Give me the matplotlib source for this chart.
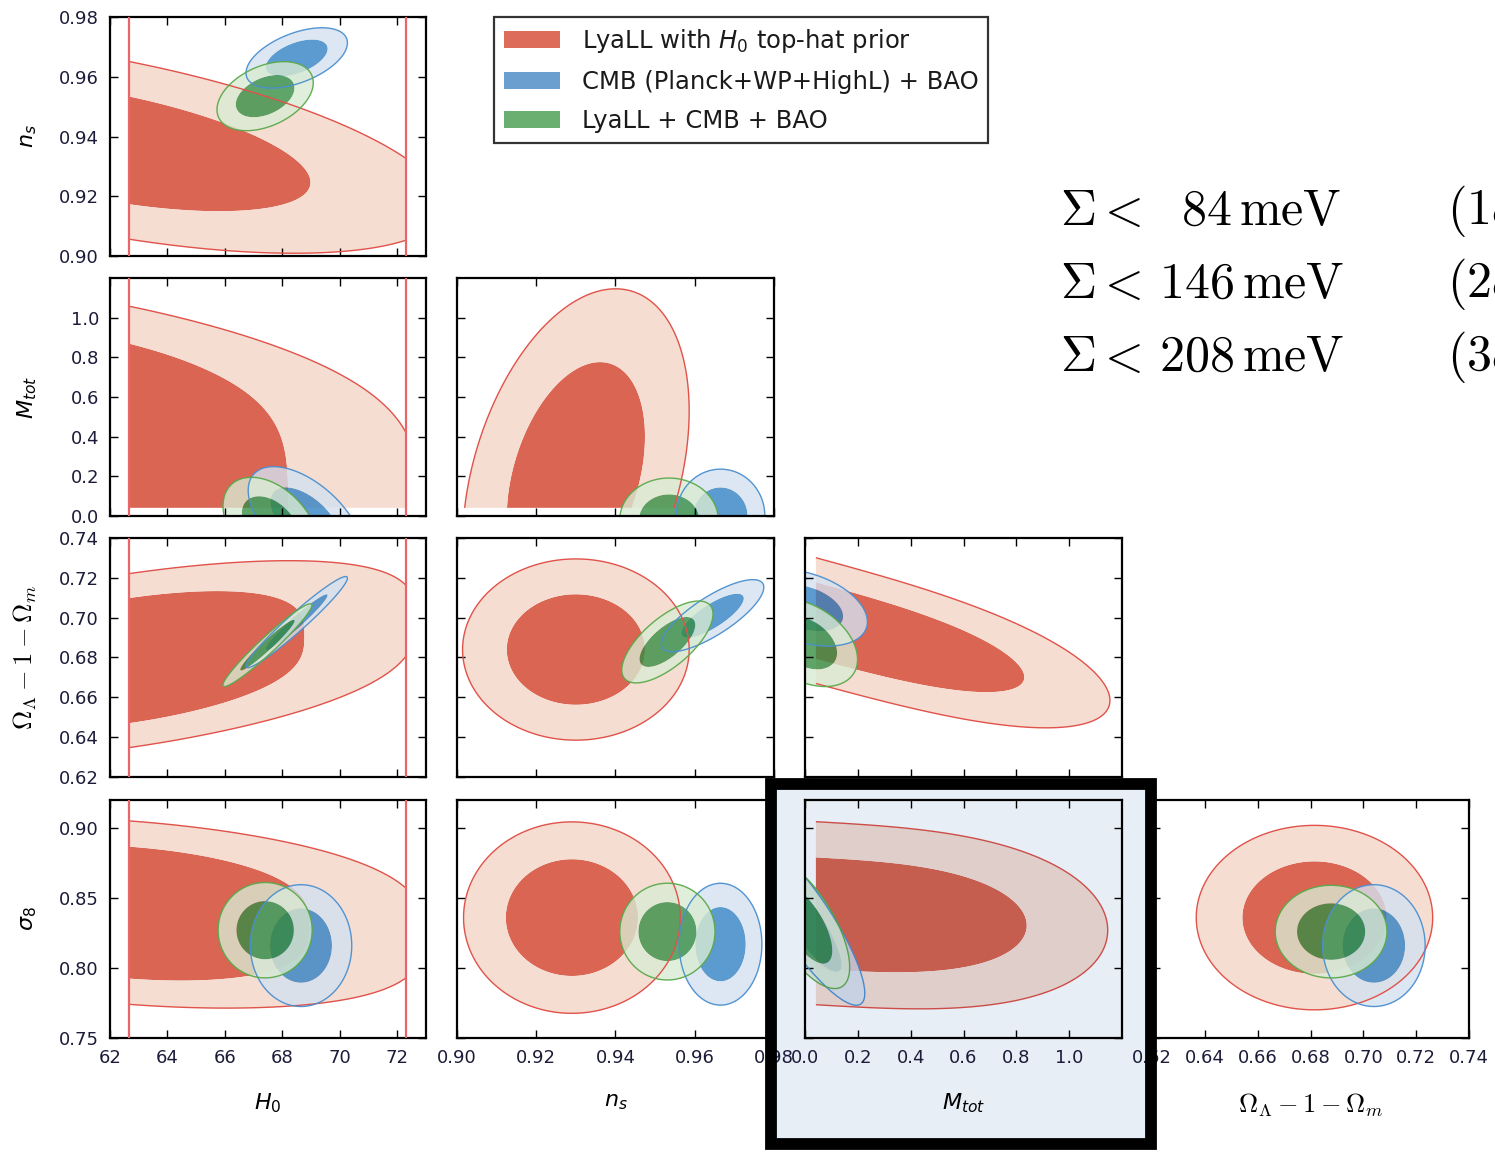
import numpy as np
import matplotlib
matplotlib.use("Agg")
import matplotlib.pyplot as plt
from matplotlib.colors import to_rgb
from matplotlib.patches import Patch, Rectangle

W, H = 1495, 1152
fig = plt.figure(figsize=(W / 100, H / 100), dpi=100)
plt.rcParams["font.family"] = ["DejaVu Sans"]
plt.rcParams["mathtext.fontset"] = "dejavusans"

# ---------------------------------------------------------------- parameters
param_range = {"H0": (62.0, 73.0), "ns": (0.90, 0.98), "Mtot": (0.0, 1.2),
               "OmL": (0.62, 0.74), "s8": (0.75, 0.92)}
param_ticks = {"H0": [62, 64, 66, 68, 70, 72],
               "ns": [0.90, 0.92, 0.94, 0.96, 0.98],
               "Mtot": [0.0, 0.2, 0.4, 0.6, 0.8, 1.0],
               "OmL": [0.62, 0.64, 0.66, 0.68, 0.70, 0.72, 0.74],
               "s8": [0.75, 0.80, 0.85, 0.90]}
tick_fmt = {"H0": "{:.0f}", "ns": "{:.2f}", "Mtot": "{:.1f}", "OmL": "{:.2f}", "s8": "{:.2f}"}
param_label = {"H0": r"$H_0$", "ns": r"$n_s$", "Mtot": r"$M_{tot}$",
               "OmL": r"$\Omega_\Lambda - 1 - \Omega_m$", "s8": r"$\sigma_8$"}

row_params = ["ns", "Mtot", "OmL", "s8"]
col_params = ["H0", "ns", "Mtot", "OmL"]

# H0 top-hat prior used for the Lyman-alpha likelihood
h0_prior = (62.65, 72.3)

# Posterior shapes for each 2D pair: centre (mx, my), width sx along x,
# conditional width sy along y, tilt slope dy/dx and profile exponents (px, py).
lya_shape = {
    ("H0", "ns"):    (61.70, 0.9370, 4.80, 0.0120, -0.0017, 2, 2),
    ("H0", "Mtot"):  (61.00, 0.080, 4.75, 0.711, -0.025, 2, 5),
    ("ns", "Mtot"):  (0.930, 0.198, 0.0115, 0.357, 11.6, 2, 2),
    ("H0", "OmL"):   (62.70, 0.6785, 4.00, 0.0238, 0.00208, 2, 3),
    ("ns", "OmL"):   (0.930, 0.684, 0.0115, 0.0183, 0.0, 2, 2),
    ("Mtot", "OmL"): (0.000, 0.700, 0.629, 0.0127, -0.036, 3, 2),
    ("H0", "s8"):    (62.70, 0.8395, 4.11, 0.0357, -0.00151, 2, 3),
    ("ns", "s8"):    (0.929, 0.836, 0.0110, 0.0275, 0.0, 2, 2),
    ("Mtot", "s8"):  (0.054, 0.839, 0.595, 0.0263, -0.011, 3, 2),
    ("OmL", "s8"):   (0.6815, 0.836, 0.0180, 0.0265, 0.0, 2, 2),
}
cmb_shape = {
    ("H0", "ns"):    (68.50, 0.9663, 0.71, 0.00352, 0.00285, 2, 2),
    ("H0", "Mtot"):  (68.80, -0.020, 0.80, 0.090, -0.075, 2, 2),
    ("ns", "Mtot"):  (0.9665, 0.000, 0.0045, 0.095, 0.0, 2, 2),
    ("H0", "OmL"):   (68.50, 0.6978, 0.71, 0.0024, 0.0125, 2, 2),
    ("ns", "OmL"):   (0.9645, 0.701, 0.0052, 0.0045, 1.1, 2, 2),
    ("Mtot", "OmL"): (0.000, 0.705, 0.095, 0.0072, -0.03, 2, 2),
    ("H0", "s8"):    (68.65, 0.816, 0.71, 0.0175, 0.0, 2, 2),
    ("ns", "s8"):    (0.9665, 0.817, 0.0042, 0.0175, 0.0, 2, 2),
    ("Mtot", "s8"):  (0.000, 0.834, 0.091, 0.0125, -0.23, 2, 2),
    ("OmL", "s8"):   (0.704, 0.816, 0.0078, 0.0175, 0.0, 2, 2),
}
joint_shape = {
    ("H0", "ns"):    (67.40, 0.9535, 0.674, 0.00428, 0.00269, 2, 2),
    ("H0", "Mtot"):  (67.60, -0.050, 0.67, 0.090, -0.06, 2, 2),
    ("ns", "Mtot"):  (0.9535, -0.020, 0.0050, 0.085, 0.0, 2, 2),
    ("H0", "OmL"):   (67.48, 0.6862, 0.623, 0.0022, 0.01294, 2, 2),
    ("ns", "OmL"):   (0.9531, 0.6878, 0.00463, 0.00604, 1.22, 2, 2),
    ("Mtot", "OmL"): (0.000, 0.6875, 0.080, 0.0082, -0.0425, 2, 2),
    ("H0", "s8"):    (67.40, 0.827, 0.658, 0.0137, 0.0, 2, 2),
    ("ns", "s8"):    (0.9531, 0.826, 0.00483, 0.0139, 0.0, 2, 2),
    ("Mtot", "s8"):  (0.000, 0.831, 0.068, 0.0137, -0.18, 2, 2),
    ("OmL", "s8"):   (0.6878, 0.826, 0.0085, 0.0133, 0.0, 2, 2),
}

datasets = [
    {"label": r"LyaLL with $H_0$ top-hat prior", "shape": lya_shape,
     "bounds": {"H0": h0_prior, "Mtot": (0.04, np.inf)},
     "dark": "#da6553", "light": "#f6ddd2", "edge": "#e0524a", "alpha": 1.0,
     "legend": "#de6c5a"},
    {"label": r"CMB (Planck+WP+HighL) + BAO", "shape": cmb_shape,
     "bounds": {"Mtot": (0.0, np.inf)},
     "dark": "#3382c3", "light": "#d4e2f0", "edge": "#4a8fd0", "alpha": 0.8,
     "legend": "#6a9fd0"},
    {"label": r"LyaLL + CMB + BAO", "shape": joint_shape,
     "bounds": {"Mtot": (0.0, np.inf)},
     "dark": "#378e44", "light": "#d9ebd2", "edge": "#5aa94a", "alpha": 0.8,
     "legend": "#6aaf70"},
]

# delta chi^2 thresholds of the 68% and 95% regions for two parameters
dchi2 = [2.30, 6.18]

# neutrino mass bounds quoted beside the grid
sum_bound_mev = [84, 146, 208]
sum_bound_cl = [r"1\sigma", r"2\sigma", r"3\sigma"]

# ---------------------------------------------------------------- layout
col_px = [(110, 426), (457, 774), (805, 1122), (1152, 1469)]
row_px = [(17, 256), (278, 516), (538, 777), (800, 1038)]
highlight = (2, 3)  # (column, row) of the framed panel
tint = np.array(to_rgb("#e8eef6"))
tick_color = "#1c1c3a"


def shaded(color, panel_tint):
    if panel_tint is None:
        return color
    return tuple(np.array(to_rgb(color)) * panel_tint)


def draw_posterior(ax, xp, yp, ds, panel_tint):
    mx, my, sx, sy, slope, px, py = ds["shape"][(xp, yp)]
    x = np.linspace(*param_range[xp], 700)
    y = np.linspace(*param_range[yp], 700)
    X, Y = np.meshgrid(x, y)
    u = (X - mx) / sx
    v = (Y - my - slope * (X - mx)) / sy
    chi2 = np.abs(u) ** px + np.abs(v) ** py
    keep = np.ones_like(chi2, dtype=bool)
    for name, grid in ((xp, X), (yp, Y)):
        if name in ds["bounds"]:
            lo, hi = ds["bounds"][name]
            keep &= (grid >= lo) & (grid <= hi)
    chi2 = np.ma.masked_where(~keep, chi2)
    ax.contourf(X, Y, chi2, levels=[0.0, dchi2[0], dchi2[1]],
                colors=[shaded(ds["dark"], panel_tint), shaded(ds["light"], panel_tint)],
                alpha=ds["alpha"], antialiased=True)
    ax.contour(X, Y, chi2, levels=[dchi2[1]], colors=[shaded(ds["edge"], panel_tint)],
               linewidths=1.0, alpha=min(1.0, ds["alpha"] + 0.15))


for i, yp in enumerate(row_params):
    top, bottom = row_px[i]
    for j in range(i + 1):
        xp = col_params[j]
        left, right = col_px[j]
        ax = fig.add_axes([left / W, 1 - bottom / H, (right - left) / W, (bottom - top) / H])
        framed = (j, i) == highlight
        panel_tint = tint if framed else None
        ax.set_facecolor("#e8eef6" if framed else "white")
        for ds in datasets:
            draw_posterior(ax, xp, yp, ds, panel_tint)
        if xp == "H0":
            for h in h0_prior:
                ax.axvline(h, color="#e8666a", lw=1.6, zorder=4)
        ax.set_xlim(*param_range[xp])
        ax.set_ylim(*param_range[yp])
        ax.set_xticks(param_ticks[xp])
        ax.set_yticks(param_ticks[yp])
        ax.set_xticklabels([tick_fmt[xp].format(t) for t in param_ticks[xp]])
        ax.set_yticklabels([tick_fmt[yp].format(t) for t in param_ticks[yp]])
        ax.tick_params(direction="in", top=True, right=True, length=6, width=1.0,
                       labelsize=13, pad=8, colors="black", labelcolor=tick_color,
                       labelbottom=(i == 3), labelleft=(j == 0))
        for s in ax.spines.values():
            s.set_linewidth(1.6)
        if j == 0:
            ax.set_ylabel(param_label[yp], fontsize=19 if yp == "OmL" else 16,
                          math_fontfamily="cm" if yp == "OmL" else "dejavusans")
            ax.yaxis.set_label_coords(-0.225, 0.5)
        if i == 3:
            ax.set_xlabel(param_label[xp], fontsize=19 if xp == "OmL" else 16,
                          math_fontfamily="cm" if xp == "OmL" else "dejavusans")
            ax.xaxis.set_label_coords(0.5, -0.225)

# legend
handles = [Patch(facecolor=ds["legend"], edgecolor="none") for ds in datasets]
leg = fig.legend(handles, [ds["label"] for ds in datasets], loc="upper left",
                 bbox_to_anchor=(494 / W, 1 - 17 / H), bbox_transform=fig.transFigure,
                 frameon=True, fancybox=False, edgecolor="black", fontsize=17.5,
                 handlelength=2.3, handleheight=0.7, handletextpad=0.9,
                 labelspacing=0.63, borderpad=0.4, borderaxespad=0.0)
leg.get_frame().set_linewidth(1.6)
for t in leg.get_texts():
    t.set_color("#1a1a1a")

# quoted bounds on the summed neutrino mass
for k, (val, cl) in enumerate(zip(sum_bound_mev, sum_bound_cl)):
    yc = 1 - (211 + 73 * k) / H
    gap = r"\enspace " if val < 100 else ""
    fig.text(1060 / W, yc, r"$\Sigma <\, " + gap + str(val) + r"\,\mathrm{meV}$",
             fontsize=36, math_fontfamily="cm", va="center", ha="left")
    fig.text(1447 / W, yc, r"$(" + cl + r")$", fontsize=36, math_fontfamily="cm",
             va="center", ha="left")

# framed panel: tinted background and thick black border
x0, y0, x1, y1 = 771, 784, 1151, 1144
fig.add_artist(Rectangle((x0 / W, 1 - y1 / H), (x1 - x0) / W, (y1 - y0) / H,
                         transform=fig.transFigure, facecolor="#e8eef6",
                         edgecolor="none", zorder=-1))
fig.add_artist(Rectangle((x0 / W, 1 - y1 / H), (x1 - x0) / W, (y1 - y0) / H,
                         transform=fig.transFigure, fill=False,
                         edgecolor="black", lw=8.5, zorder=10))

fig.savefig("out.png", dpi=100)
